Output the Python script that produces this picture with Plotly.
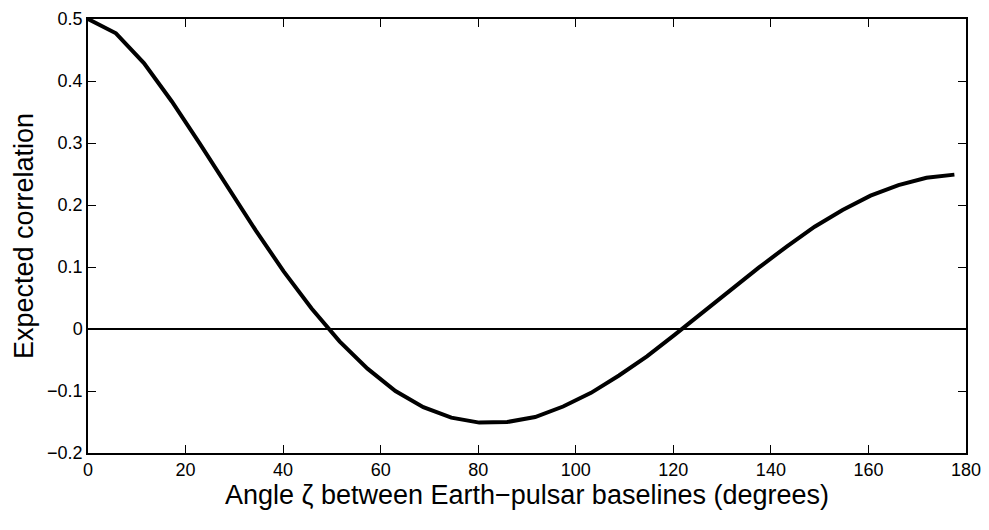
import plotly.graph_objects as go

# angular separation between pulsar pairs (degrees)
zeta_deg = [0.0, 5.73, 11.46, 17.19, 22.92, 28.65, 34.38, 40.11, 45.84, 51.57,
            57.30, 63.03, 68.75, 74.48, 80.21, 85.94, 91.67, 97.40, 103.13, 108.86,
            114.59, 120.32, 126.05, 131.78, 137.51, 143.24, 148.97, 154.70, 160.43,
            166.16, 171.89, 177.62]
# expected correlation
corr = [0.500, 0.477, 0.429, 0.367, 0.299, 0.228, 0.159, 0.093, 0.033, -0.020,
        -0.064, -0.100, -0.126, -0.143, -0.151, -0.150, -0.142, -0.125, -0.103,
        -0.075, -0.044, -0.009, 0.027, 0.064, 0.099, 0.133, 0.165, 0.192, 0.215,
        0.232, 0.244, 0.249]

x_ticks = [0, 20, 40, 60, 80, 100, 120, 140, 160, 180]
y_ticks = [-0.2, -0.1, 0, 0.1, 0.2, 0.3, 0.4, 0.5]
y_labels = ["\u22120.2", "\u22120.1", "0", "0.1", "0.2", "0.3", "0.4", "0.5"]

fig = go.Figure()
fig.add_trace(go.Scatter(x=[0, 180], y=[0, 0], mode="lines",
                         line=dict(color="black", width=2), hoverinfo="skip"))
fig.add_trace(go.Scatter(x=zeta_deg, y=corr, mode="lines",
                         line=dict(color="black", width=4)))

axis_common = dict(
    showgrid=False, zeroline=False, showline=True, linecolor="black", linewidth=1.5,
    mirror="ticks", ticks="inside", ticklen=8, tickcolor="black", tickwidth=1,
    automargin=False, ticklabeloverflow="allow",
    tickfont=dict(family="Liberation Sans, Arial, sans-serif", size=18, color="black"),
)

# page body has an 8px margin, so the figure is a bit smaller than the window
fig.update_layout(
    width=981, height=522,
    margin=dict(l=80, r=23, t=11, b=77),
    paper_bgcolor="white", plot_bgcolor="white",
    showlegend=False,
    font=dict(family="Liberation Sans, Arial, sans-serif", color="black"),
    xaxis=dict(range=[0, 180], tickvals=x_ticks,
               title=dict(text="Angle \u03b6 between Earth\u2212pulsar baselines (degrees)",
                          font=dict(size=27), standoff=2),
               **axis_common),
    yaxis=dict(range=[-0.2, 0.5], tickvals=y_ticks, ticktext=y_labels,
               title=dict(text="Expected correlation", font=dict(size=27), standoff=6),
               **axis_common),
)

fig.write_html("out.html")
